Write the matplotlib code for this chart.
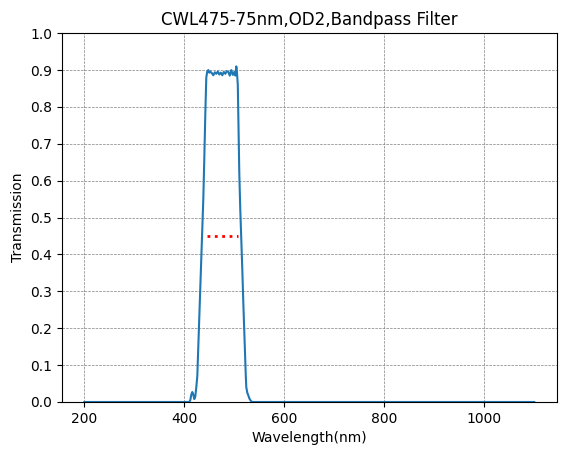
import matplotlib
matplotlib.use("Agg")
import matplotlib.pyplot as plt

wavelength = [200, 300, 400, 410, 412, 414, 416, 418, 420, 422, 424, 426, 428, 430, 432, 434, 436,
              438, 440, 442, 444, 446, 448, 450, 452, 455, 458, 461, 464, 467, 470, 473, 476, 479,
              482, 485, 488, 491, 494, 497, 500, 502, 504, 505, 506, 507, 508, 510, 512, 514, 516,
              518, 520, 522, 523, 524, 526, 528, 530, 533, 536, 540, 600, 800, 1000, 1100]
transmission = [0.0, 0.0, 0.0, 0.0, 0.005, 0.02, 0.027, 0.02, 0.008, 0.015, 0.04, 0.07, 0.15, 0.23,
                0.31, 0.39, 0.47, 0.55, 0.66, 0.78, 0.88, 0.897, 0.9, 0.893, 0.896, 0.892, 0.886,
                0.894, 0.89, 0.896, 0.888, 0.893, 0.886, 0.895, 0.89, 0.897, 0.895, 0.885, 0.9,
                0.887, 0.895, 0.885, 0.91, 0.9, 0.88, 0.86, 0.78, 0.62, 0.52, 0.44, 0.36, 0.27,
                0.19, 0.11, 0.07, 0.04, 0.025, 0.018, 0.01, 0.003, 0.0, 0.0, 0.0, 0.0, 0.0, 0.0]
fwhm_x = [445, 507]
fwhm_y = [0.45, 0.45]

fig, ax = plt.subplots(figsize=(5.67, 4.55), dpi=100)
fig.subplots_adjust(left=0.109, right=0.982, top=0.927, bottom=0.1165)
ax.plot(wavelength, transmission, color="#1f77b4", linewidth=1.5)
ax.plot(fwhm_x, fwhm_y, color="red", linestyle=":", linewidth=2)
ax.set_ylim(0, 1.0)
ax.set_yticks([i / 10 for i in range(11)])
ax.set_xticks([200, 400, 600, 800, 1000])
ax.grid(True, color="gray", linestyle="--", linewidth=0.5)
ax.set_xlabel("Wavelength(nm)")
ax.set_ylabel("Transmission")
ax.set_title("CWL475-75nm,OD2,Bandpass Filter")
fig.savefig("out.png", dpi=100)
